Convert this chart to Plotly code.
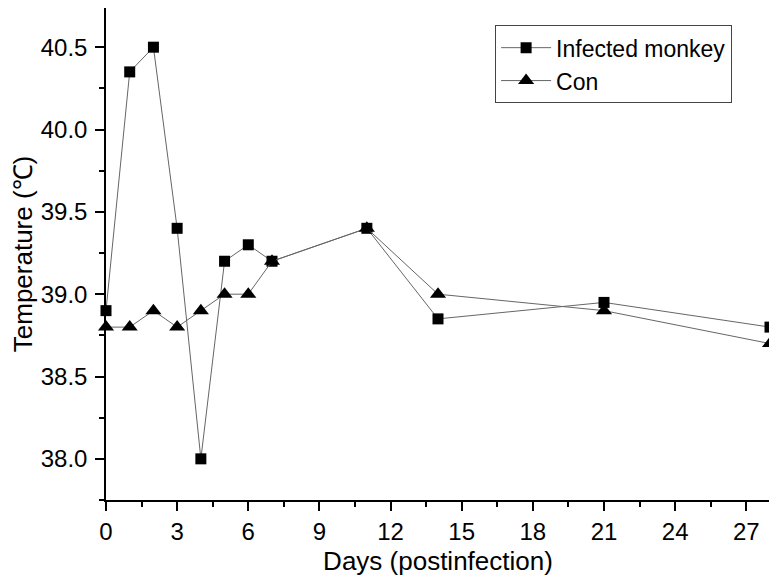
import plotly.graph_objects as go

days = [0, 1, 2, 3, 4, 5, 6, 7, 11, 14, 21, 28]
infected = [38.9, 40.35, 40.5, 39.4, 38.0, 39.2, 39.3, 39.2, 39.4, 38.85, 38.95, 38.8]
con = [38.8, 38.8, 38.9, 38.8, 38.9, 39.0, 39.0, 39.2, 39.4, 39.0, 38.9, 38.7]
x_ticks = [0, 3, 6, 9, 12, 15, 18, 21, 24, 27]
y_ticks = [38.0, 38.5, 39.0, 39.5, 40.0, 40.5]

FONT = "Liberation Sans, Arial, Helvetica, sans-serif"

fig = go.Figure()
fig.add_trace(go.Scatter(
    x=days, y=infected, mode="lines+markers", name="Infected monkey",
    line=dict(color="#666666", width=1),
    marker=dict(symbol="square", size=11, color="black"),
    cliponaxis=False,
))
fig.add_trace(go.Scatter(
    x=days, y=con, mode="lines+markers", name="Con",
    line=dict(color="#666666", width=1),
    marker=dict(symbol="triangle-up", size=14, color="black"),
    cliponaxis=False,
))

fig.update_layout(
    width=769, height=570,
    margin=dict(l=98, r=7, t=0, b=78),
    paper_bgcolor="white", plot_bgcolor="white",
    font=dict(family=FONT, size=24, color="black"),
    showlegend=True,
    legend=dict(
        x=0.586, y=0.965, xanchor="left", yanchor="top",
        bordercolor="#444444", borderwidth=1, bgcolor="white",
        font=dict(size=23), tracegroupgap=0, itemwidth=50,
    ),
    xaxis=dict(
        range=[0, 28], tickvals=x_ticks, showgrid=False, zeroline=False,
        showline=True, linecolor="black", linewidth=1.5, automargin=False,
        ticks="outside", ticklen=9, tickwidth=1.5, tickcolor="black",
        minor=dict(ticks="outside", ticklen=5, tickwidth=1.5, tickcolor="black",
                   tick0=0, dtick=1.5, showgrid=False),
        title=dict(text="Days (postinfection)", font=dict(size=26), standoff=8),
        tickfont=dict(size=24),
    ),
    yaxis=dict(
        range=[37.75, 40.738], tickvals=y_ticks, tickformat=".1f",
        showgrid=False, zeroline=False, automargin=False,
        showline=True, linecolor="black", linewidth=1.5,
        ticks="outside", ticklen=9, tickwidth=1.5, tickcolor="black",
        minor=dict(ticks="outside", ticklen=5, tickwidth=1.5, tickcolor="black",
                   tick0=37.75, dtick=0.25, showgrid=False),
        title=dict(text="Temperature (℃)", font=dict(size=26), standoff=17),
        tickfont=dict(size=24), ticklabelstandoff=3,
    ),
)

fig.write_html("out.html")
